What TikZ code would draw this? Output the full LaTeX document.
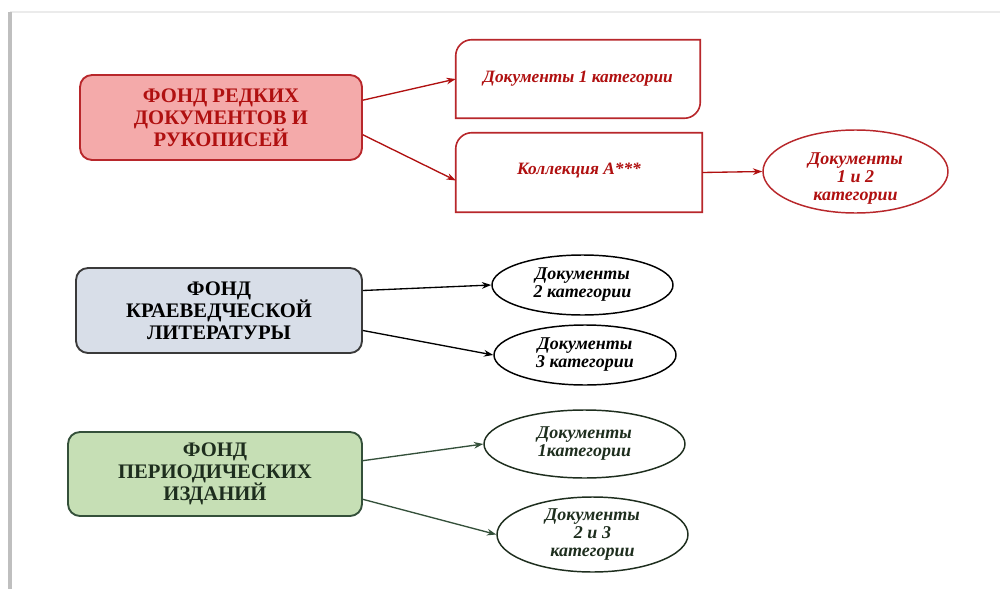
\documentclass[tikz,border=0pt]{standalone}
\usepackage{fontspec}
\setmainfont{Liberation Serif}
\usetikzlibrary{arrows.meta,shapes.geometric}

\definecolor{rfill}{HTML}{F4AAAA}
\definecolor{rline}{HTML}{B8272B}
\definecolor{rtext}{HTML}{B01010}
\definecolor{gfill}{HTML}{D8DEE8}
\definecolor{gline}{HTML}{3A3A3A}
\definecolor{nfill}{HTML}{C6DFB5}
\definecolor{nline}{HTML}{34503A}
\definecolor{ntext}{HTML}{1E2E1E}

% bold capitals set with an even line pitch
\newcommand{\fundfont}{\fontsize{15.5}{16.5}\selectfont\bfseries\setlength{\lineskiplimit}{-20pt}}

\tikzset{
  fund/.style={rectangle, rounded corners=9pt, line width=1.4pt, align=center,
    font=\fundfont},
  docbox/.style={rectangle, draw=none, minimum width=244*0.75pt, minimum height=78*0.75pt,
    text=rtext, font=\fontsize{13}{15}\selectfont\bfseries\itshape},
  docell/.style={ellipse, line width=1.1pt, inner sep=0pt, align=center,
    font=\fontsize{13.5}{13.5}\selectfont\bfseries\itshape},
  link/.style={line width=1pt, -{Stealth[length=7pt,width=5pt]}},
}

\begin{document}
\begin{tikzpicture}[x=0.75pt, y=-0.75pt]
\useasboundingbox (0,0) rectangle (1000,589);
\fill[white] (0,0) rectangle (1000,589);

% page frame with shadowed left edge
\draw[black!8, line width=1.5pt] (10,12) -- (1000,12);
\draw[black!25, line width=2.5pt] (10,12) -- (10,589);

% ---- rare documents fund ----
\node[fund, fill=rfill, draw=rline, text=rtext, minimum width=282*0.75pt, minimum height=85*0.75pt]
  (rare) at (221,117.5) {ФОНД РЕДКИХ\\ДОКУМЕНТОВ И\\РУКОПИСЕЙ};

\node[docbox] (doc1) at (578,79) {Документы 1 категории};
\draw[rline, line width=1.2pt]
  ([yshift=-12pt]doc1.north west)
    .. controls ([yshift=-5.4pt]doc1.north west) and ([xshift=5.4pt]doc1.north west)
    .. ([xshift=12pt]doc1.north west)
  -- (doc1.north east)
  -- ([yshift=12pt]doc1.south east)
    .. controls ([yshift=5.4pt]doc1.south east) and ([xshift=-5.4pt]doc1.south east)
    .. ([xshift=-12pt]doc1.south east)
  -- (doc1.south west) -- cycle;

\node[docbox, minimum width=246*0.75pt, minimum height=79*0.75pt] (coll) at (579,172.5)
  {\raisebox{5pt}{Коллекция А***}};
\draw[rline, line width=1.2pt]
  ([yshift=-12pt]coll.north west)
    .. controls ([yshift=-5.4pt]coll.north west) and ([xshift=5.4pt]coll.north west)
    .. ([xshift=12pt]coll.north west)
  -- (coll.north east) -- (coll.south east) -- (coll.south west) -- cycle;

\node[docell, draw=rline, minimum width=185*0.75pt, minimum height=83*0.75pt,
  label={[text=rtext, align=center, inner sep=0pt, yshift=-5pt,
          font=\fontsize{13.5}{13.5}\selectfont\bfseries\itshape]center:Документы\\1 и 2\\категории}]
  (e12) at (855.5,171.5) {};

\draw[link, rtext] ([yshift=13pt]rare.east) -- (doc1.west);
\draw[link, rtext] ([yshift=-13pt]rare.east) -- ([yshift=-6pt]coll.west);
\draw[link, rtext] (coll.east) -- (e12.west);

% ---- local history fund ----
\node[fund, fill=gfill, draw=gline, text=black, minimum width=286*0.75pt, minimum height=85*0.75pt]
  (local) at (219,310.5) {ФОНД\\КРАЕВЕДЧЕСКОЙ\\ЛИТЕРАТУРЫ};

\node[docell, draw=black, text=black, minimum width=181*0.75pt, minimum height=60*0.75pt]
  (e2) at (582.5,285) {Документы\\2 категории};
\node[docell, draw=black, text=black, minimum width=182*0.75pt, minimum height=60*0.75pt]
  (e3) at (585,355) {Документы\\3 категории};

\draw[link, black] ([yshift=15pt]local.east) -- (e2.west);
\draw[link, black] ([yshift=-15pt]local.east) -- (e3.west);

% ---- periodicals fund ----
\node[fund, fill=nfill, draw=nline, text=ntext, minimum width=294*0.75pt, minimum height=84*0.75pt]
  (period) at (215,474) {ФОНД\\ПЕРИОДИЧЕСКИХ\\ИЗДАНИЙ};

\node[docell, draw=ntext, text=ntext, minimum width=201*0.75pt, minimum height=68*0.75pt]
  (eg1) at (584.5,444) {Документы\\1категории};
\node[docell, draw=ntext, text=ntext, minimum width=191*0.75pt, minimum height=75*0.75pt]
  (eg23) at (592.5,534.5) {Документы\\2 и 3\\категории};

\draw[link, nline] ([yshift=10pt]period.east) -- (eg1.west);
\draw[link, nline] ([yshift=-19pt]period.east) -- (eg23.west);
\end{tikzpicture}
\end{document}
